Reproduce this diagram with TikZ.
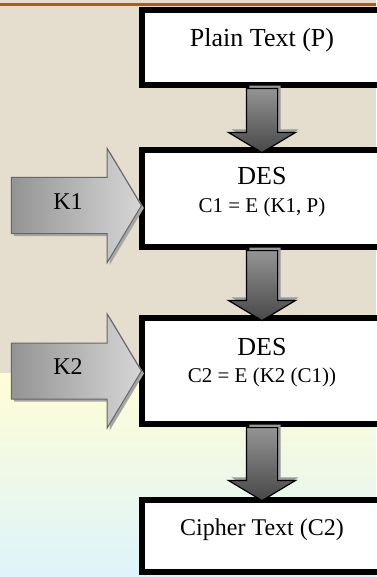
\documentclass[tikz,border=0pt]{standalone}
\usepackage{fontspec}
\setmainfont{Liberation Serif}
\usetikzlibrary{positioning,shapes.arrows,shadows}

\definecolor{paper}{RGB}{229,221,206}
\definecolor{strip}{RGB}{180,88,18}
\definecolor{haze}{RGB}{255,253,214}
\definecolor{sky}{RGB}{222,244,251}

\begin{document}
\begin{tikzpicture}
[x=1pt, y=-1pt,
block/.style={rectangle, draw, line width=6pt, fill=white, minimum width=240pt, inner sep=0pt, font=\fontsize{26}{30}\selectfont},
formula/.style={inner sep=0pt, font=\fontsize{21}{25}\selectfont},
down-arrow/.style={single arrow, rotate=-90, draw, line width=1.2pt, minimum width=66pt, single arrow head extend=18pt, single arrow tip angle=118, inner xsep=0pt, inner ysep=15pt, top color=black!42, middle color=black, bottom color=black!72, drop shadow={shadow xshift=3pt, shadow yshift=3pt, fill=black!40, opacity=1}},
key-arrow/.style={single arrow, draw=black!60, line width=1pt, minimum height=130pt, minimum width=113pt, single arrow head extend=29pt, single arrow tip angle=118, inner xsep=4pt, inner ysep=0pt, text height=31pt, text depth=24pt, left color=black!42, right color=black!16, font=\fontsize{24}{28}\selectfont, drop shadow={shadow xshift=2.5pt, shadow yshift=-2.5pt, fill=black!35, opacity=1}},]
\useasboundingbox (0,0) rectangle (376,577);
% backdrop
\fill [paper] (0,0) rectangle (376,373);
\fill [strip] (0,3) rectangle (376,6);
\shade [top color=haze, middle color=white, bottom color=sky] (0,373) rectangle (376,577);
% boxes
\node (plain)  [block, anchor=base, text height=37pt, text depth=38pt] at (262,47) {Plain Text (P)};
\node (des1)   [block, below=59pt of plain, text height=35pt, text depth=62pt] {DES};
\node (eq1)    [formula, anchor=base, yshift=-27pt] at (des1.base) {C1 = E (K1, P)};
\node (des2)   [block, below=65pt of des1, text height=37pt, text depth=69pt] {DES};
\node (eq2)    [formula, anchor=base, yshift=-27pt] at (des2.base) {C2 = E (K2 (C1))};
\node (cipher) [block, below=70pt of des2, text height=35pt, text depth=37pt, font=\fontsize{24}{28}\selectfont] {Cipher Text (C2)};
% flow between boxes
\node (link1) [down-arrow, minimum height=64pt, anchor=tail] at (plain.south) {};
\node (link2) [down-arrow, minimum height=70pt, anchor=tail] at (des1.south) {};
\node (link3) [down-arrow, minimum height=73pt, anchor=tail] at (des2.south) {};
% keys
\node (key1) [key-arrow, anchor=tip] at ([shift={(3,7)}]des1.west) {K1};
\node (key2) [key-arrow, anchor=tip] at ([shift={(3,0)}]des2.west) {K2};
\end{tikzpicture}
\end{document}
